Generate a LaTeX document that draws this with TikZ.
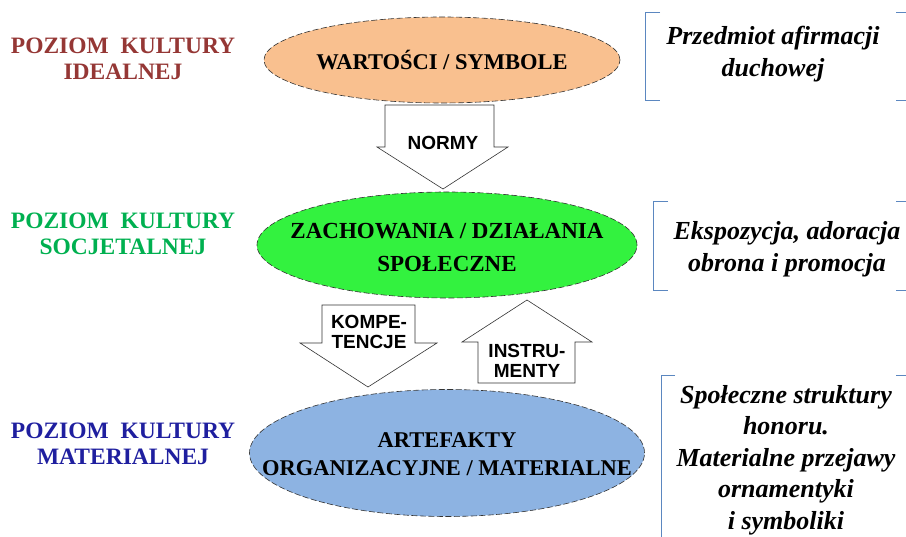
\documentclass[tikz,border=0pt]{standalone}
\usepackage{fontspec}
\setmainfont{Liberation Serif}
\newfontfamily\arialfont{Liberation Sans}
\usepackage{tikz}
\usetikzlibrary{shapes.geometric}

\definecolor{idealred}{HTML}{953735}
\definecolor{socjetgreen}{HTML}{00B050}
\definecolor{materblue}{HTML}{1F1F9F}
\definecolor{peachfill}{HTML}{F9C08F}
\definecolor{greenfill}{HTML}{33F23F}
\definecolor{skyfill}{HTML}{8DB3E2}
\definecolor{bracketblue}{HTML}{5B87C0}

\begin{document}
\begin{tikzpicture}[
                x=1pt, y=-1pt,
                level/.style={ellipse, draw=black!80, dash pattern=on 6pt off 2.5pt, line width=0.6pt, inner sep=0pt}, % Ellipse for each level
                leveltext/.style={align=center, font=\fontsize{22.5}{30}\selectfont\bfseries}, % Text inside the ellipse
                levellabel/.style={align=center, font=\fontsize{23.5}{26}\selectfont\bfseries}, % Names on the left
                note/.style={align=center, font=\fontsize{26}{31.5}\selectfont\bfseries\itshape}, % Notes on the right
                blockarrow/.style={draw=black!80, fill=white, line width=0.6pt, line join=miter}, % Hollow arrows
                arrowtext/.style={align=center, font=\arialfont\fontsize{19}{20.5}\selectfont\bfseries},
                bracket/.style={draw=bracketblue, line width=0.8pt}
                ]
                \useasboundingbox (0,0) rectangle (906,537);

                % levels
                \node[level, fill=peachfill, minimum width=356pt, minimum height=86pt] (wartosci) at (442,60) {};
                \node[leveltext] (wartoscitext) at (wartosci) {WARTOŚCI / SYMBOLE};
                \node[level, fill=greenfill, minimum width=380pt, minimum height=106pt] (zachowania) at (447,245) {};
                \node[leveltext, font=\fontsize{23}{33}\selectfont\bfseries] (zachowaniatext) at (447,248) {ZACHOWANIA / DZIAŁANIA\\SPOŁECZNE};
                \node[level, fill=skyfill, minimum width=395pt, minimum height=127pt] (artefakty) at (447,453) {};
                \node[leveltext, font=\fontsize{22.5}{28}\selectfont\bfseries] (artefaktytext) at (447,454) {ARTEFAKTY\\ORGANIZACYJNE / MATERIALNE};

                % labels on the left
                \node[levellabel, text=idealred] (ideal) at (123,59) {POZIOM\ \ KULTURY\\IDEALNEJ};
                \node[levellabel, text=socjetgreen] (socjet) at (123,234) {POZIOM\ \ KULTURY\\SOCJETALNEJ};
                \node[levellabel, text=materblue] (mater) at (123,444) {POZIOM\ \ KULTURY\\MATERIALNEJ};

                % block arrows
                \draw[blockarrow] (385,105) -- (494,105) -- (494,147) -- (508,147) -- (443,189) -- (377,147) -- (385,147) -- cycle;
                \node[arrowtext] (normy) at (443,143) {NORMY};
                \draw[blockarrow] (322,305) -- (415,305) -- (415,343) -- (437,343) -- (368,387) -- (300,343) -- (322,343) -- cycle;
                \node[arrowtext] (kompetencje) at (369,332) {KOMPE-\\TENCJE};
                \draw[blockarrow] (478,383) -- (575,383) -- (575,342) -- (592,342) -- (527,300) -- (462,342) -- (478,342) -- cycle;
                \node[arrowtext] (instrumenty) at (527,361) {INSTRU-\\MENTY};

                % notes on the right
                \node[note] (afirmacja) at (773,54) {Przedmiot afirmacji\\duchowej};
                \node[note] (ekspozycja) at (787,249) {Ekspozycja, adoracja\\obrona i promocja};
                \node[note] (struktury) at (786,460) {Społeczne struktury\\honoru.\\Materialne przejawy\\ornamentyki\\i symboliki};

                % brackets round the notes
                \draw[bracket] (660,12) -- (645,12) -- (645,100) -- (660,100);
                \draw[bracket] (896,12) -- (911,12);
                \draw[bracket] (896,100) -- (911,100);
                \draw[bracket] (668,201) -- (653,201) -- (653,290) -- (668,290);
                \draw[bracket] (896,201) -- (911,201);
                \draw[bracket] (896,290) -- (911,290);
                \draw[bracket] (675,375) -- (661,375) -- (661,545);
                \draw[bracket] (896,375) -- (911,375);
            \end{tikzpicture}
\end{document}
